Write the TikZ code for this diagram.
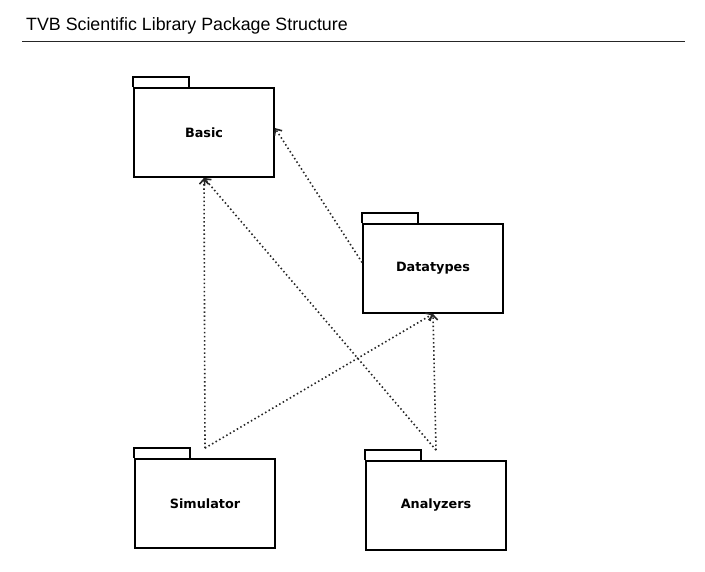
\documentclass[tikz,border=0pt]{standalone}
\usepackage{fontspec}
\setmainfont{Liberation Sans}
\newfontfamily\labfont{DejaVu Sans}
\usetikzlibrary{arrows.meta}
\begin{document}
\begin{tikzpicture}[x=1pt,y=-1pt,
  pkg/.style={draw=black,line width=1.8pt,minimum width=140pt,minimum height=89pt,inner sep=0pt,
    font=\labfont\bfseries\fontsize{12.8}{14}\selectfont},
  tab/.style={draw=black,line width=1.9pt},
  dep/.style={draw=black!85,line width=1.6pt,dash pattern=on 1.5pt off 2.6pt,
    -{Straight Barb[length=5pt,width=9pt,line width=1.6pt]}}]
\useasboundingbox (0,0) rectangle (705,571);
\node[anchor=base west,font=\fontsize{17.8}{20}\selectfont,inner sep=0pt] (title) at (26,30) {TVB Scientific Library Package Structure};
\draw[line width=1pt,black!85] (22,41) -- (685,41);

\node[pkg] (basic) at (204,132.5) {Basic};
\node[pkg] (dt) at (433,268.5) {Datatypes};
\node[pkg] (sim) at (205,503.5) {Simulator};
\node[pkg] (ana) at (436,505.5) {Analyzers};

\foreach \n in {basic,dt,sim,ana}{
  \draw[tab] (\n.north west) -- ++(0,-10.5) -- ++(56,0) -- ++(0,10.5);
}

\coordinate (simtop) at ([yshift=10pt]sim.north);
\coordinate (anatop) at ([yshift=10pt]ana.north);

\draw[dep] ([yshift=6pt]dt.west) -- ([yshift=4.5pt]basic.east);
\draw[dep] (simtop) -- (basic.south);
\draw[dep] (simtop) -- (dt.south);
\draw[dep] (anatop) -- (basic.south);
\draw[dep] (anatop) -- (dt.south);
\end{tikzpicture}
\end{document}
